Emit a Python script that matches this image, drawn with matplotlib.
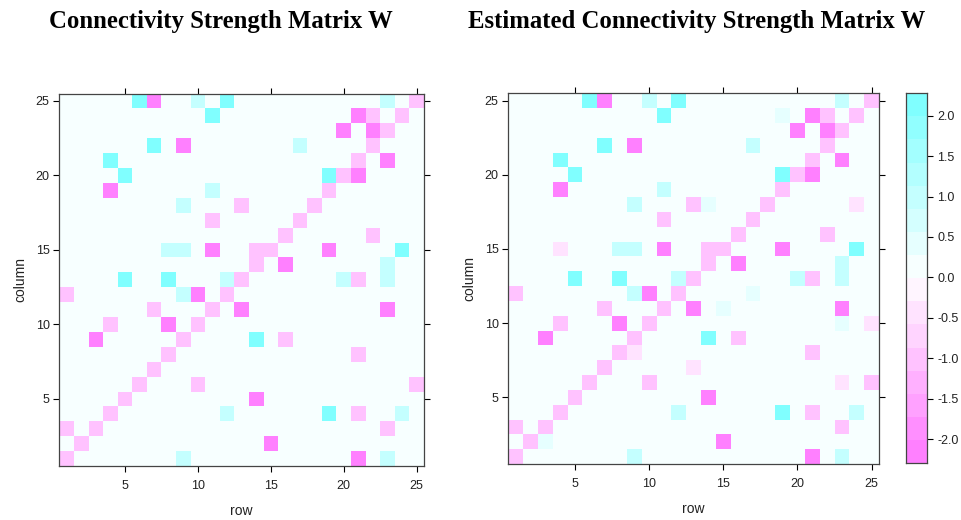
import numpy as np
import matplotlib
matplotlib.use("Agg")
import matplotlib.pyplot as plt
from matplotlib.colors import ListedColormap, BoundaryNorm, hsv_to_rgb

plt.rcParams["axes.unicode_minus"] = False

N = 25
tick_vals = [5, 10, 15, 20, 25]
key_ticks = [-2.0, -1.5, -1.0, -0.5, 0.0, 0.5, 1.0, 1.5, 2.0]

# Nonzero entries of the connectivity matrix W: (row, column, strength)
w_row = [6, 7, 10, 12, 23, 25,
         11, 21, 22, 24,
         20, 22, 23,
         7, 9, 17, 22,
         4, 21, 23,
         5, 19, 20, 21,
         4, 11, 19,
         9, 13, 18,
         11, 17,
         16, 22,
         8, 9, 11, 14, 15, 19, 24,
         14, 16, 23,
         5, 8, 12, 13, 20, 21, 23,
         1, 9, 10, 12,
         7, 11, 13, 23,
         4, 8, 10,
         3, 9, 14, 16,
         8, 21,
         7,
         6, 10, 25,
         5, 14,
         4, 12, 19, 21, 24,
         1, 3, 23,
         2, 15,
         1, 9, 21, 23]
w_col = [25] * 6 + [24] * 4 + [23] * 3 + [22] * 4 + [21] * 3 + [20] * 4 + \
        [19] * 3 + [18] * 3 + [17] * 2 + [16] * 2 + [15] * 7 + [14] * 3 + \
        [13] * 7 + [12] * 4 + [11] * 4 + [10] * 3 + [9] * 4 + [8] * 2 + \
        [7] * 1 + [6] * 3 + [5] * 2 + [4] * 5 + [3] * 3 + [2] * 2 + [1] * 4
w_val = [2.2, -2.2, 1.0, 2.2, 1.0, -1.0,
         2.2, -2.2, -1.0, -1.0,
         -2.2, -2.2, -1.0,
         2.2, -2.2, 1.0, -1.0,
         2.2, -1.0, -2.2,
         2.2, 2.2, -1.0, -2.2,
         -2.2, 1.0, -1.0,
         1.0, -1.0, -1.0,
         -1.0, -1.0,
         -1.0, -1.0,
         1.0, 1.0, -2.2, -1.0, -1.0, -2.2, 2.2,
         -1.0, -2.2, 1.0,
         2.2, 2.2, 1.0, -1.0, 1.0, -1.0, 1.0,
         -1.0, 1.0, -2.2, -1.0,
         -1.0, -1.0, -2.2, -2.2,
         -1.0, -2.2, -1.0,
         -2.2, -1.0, 2.2, -1.0,
         -1.0, -1.0,
         -1.0,
         -1.0, -1.0, -1.0,
         -1.0, -2.2,
         -1.0, 1.0, 2.2, -1.0, 1.0,
         -1.0, -1.0, -1.0,
         -1.0, -2.2,
         -1.0, 1.0, -2.2, 1.0]

# The estimate reproduces W and adds a few weak spurious links
est_row = [4, 19, 14, 24, 9, 13, 3, 17, 15, 23, 25, 23]
est_col = [15, 24, 18, 18, 8, 7, 2, 12, 11, 10, 10, 6]
est_val = [-0.45, 0.4, 0.4, -0.45, -0.45, -0.45, 0.4, 0.4, 0.4, 0.4, -0.45, -0.45]

W = np.zeros((N, N))
for r, c, v in zip(w_row, w_col, w_val):
    W[c - 1, r - 1] = v
W_est = W.copy()
for r, c, v in zip(est_row, est_col, est_val):
    W_est[c - 1, r - 1] = v

# 16 colours picked from a 100-step cyan/magenta ramp
# (magenta = negative, cyan = positive, near-white around zero)
ramp_n = 100
n_lev = 16
ramp = []
for k in range(ramp_n):
    if k < ramp_n // 2:
        ramp.append(hsv_to_rgb((10 / 12, 0.5 - k * 0.01, 1.0)))
    else:
        ramp.append(hsv_to_rgb((6 / 12, (k - ramp_n // 2 + 1) * 0.01, 1.0)))
pick = np.floor(np.linspace(1, ramp_n, n_lev)).astype(int) - 1
cmap = ListedColormap([ramp[p] for p in pick])
breaks = np.linspace(-2.30, 2.28, n_lev + 1)
norm = BoundaryNorm(breaks, cmap.N)

fig = plt.figure(figsize=(9.62, 5.20), dpi=100)

edges = np.arange(0.5, N + 1.0, 1.0)
sans = "Liberation Sans"
frame_col = "#444444"


def draw_panel(ax, mat):
    ax.pcolormesh(edges, edges, mat, cmap=cmap, norm=norm,
                  shading="flat", antialiased=False, edgecolors="none")
    ax.set_xlim(0.5, N + 0.5)
    ax.set_ylim(0.5, N + 0.5)
    ax.set_xticks(tick_vals)
    ax.set_yticks(tick_vals)
    ax.tick_params(direction="out", length=4, width=0.8, colors="black",
                   labelsize=9, top=True, right=True, pad=3)
    ax.tick_params(axis="x", pad=6)
    for lab in ax.get_xticklabels() + ax.get_yticklabels():
        lab.set_family(sans)
        lab.set_color("#222222")
    for sp in ax.spines.values():
        sp.set_color(frame_col)
        sp.set_linewidth(0.9)
    ax.set_xlabel("row", fontsize=10, family=sans, labelpad=9, color="#222222")
    ax.set_ylabel("column", fontsize=10, family=sans, labelpad=6, color="#222222")


ax1 = fig.add_axes([0.0617, 0.1038, 0.379, 0.7163])
draw_panel(ax1, W)
ax2 = fig.add_axes([0.5284, 0.1077, 0.3853, 0.7129])
draw_panel(ax2, W_est)

# Colour key
cax = fig.add_axes([0.9423, 0.109, 0.0218, 0.712])
cax.pcolormesh([0, 1], breaks, (0.5 * (breaks[:-1] + breaks[1:]))[:, None],
               cmap=cmap, norm=norm, shading="flat", antialiased=False)
cax.set_xlim(0, 1)
cax.set_ylim(breaks[0], breaks[-1])
cax.set_xticks([])
cax.yaxis.tick_right()
cax.set_yticks(key_ticks)
cax.set_yticklabels([f"{t:.1f}" for t in key_ticks], family=sans, fontsize=9,
                    color="#222222")
cax.tick_params(axis="y", direction="out", length=4, width=0.8, pad=3)
for sp in cax.spines.values():
    sp.set_color(frame_col)
    sp.set_linewidth(0.9)

title_kw = dict(family="Liberation Serif", fontweight="bold", fontsize=17.8,
                ha="center", va="center")
fig.text(0.2297, 0.958, "Connectivity Strength Matrix W", **title_kw)
fig.text(0.7245, 0.958, "Estimated Connectivity Strength Matrix W", **title_kw)

fig.savefig("out.png", dpi=100)
